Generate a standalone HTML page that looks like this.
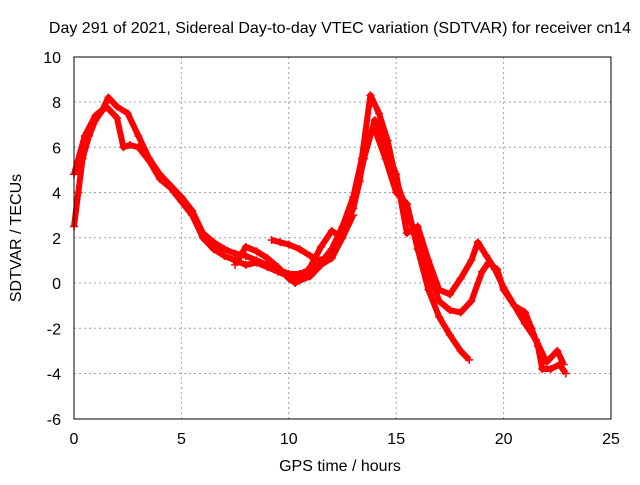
<!DOCTYPE html>
<html><head><meta charset="utf-8"><style>
body{margin:0;background:#fff;font-family:"Liberation Sans",sans-serif}
svg text{font-family:"Liberation Sans",sans-serif;font-size:16px;fill:#000}
</style></head><body>
<svg id="chart" width="640" height="480" xmlns="http://www.w3.org/2000/svg">
<rect width="640" height="480" fill="#fff"/>
<text x="340" y="33" text-anchor="middle">Day 291 of 2021, Sidereal Day-to-day VTEC variation (SDTVAR) for receiver cn14</text>
<text x="340" y="471" text-anchor="middle">GPS time / hours</text>
<text x="21" y="238" text-anchor="middle" transform="rotate(-90 21 238)">SDTVAR / TECUs</text>
<g id="grid"></g><g id="ticks"></g><g id="series"></g>
<rect x="74" y="57" width="537" height="362" fill="none" stroke="#000" stroke-width="1"/>
</svg>
<script>
const xTicks=[0,5,10,15,20,25];
const yTicks=[-6,-4,-2,0,2,4,6,8,10];
const trackA_t=[0,0.2,0.4,0.7,1.0,1.3,1.6,2.0,2.5,3.0,3.5,4.0,4.5,5.0,5.5,6.0,6.5,7.0,7.5,8.0,8.5,9,9.5,10,10.5,11,11.5,12,12.5,13,13.4,13.8,14.2,14.6,15,15.5,16,16.5,17,17.5,18,18.5,19,19.3,19.7,20,20.5,21,21.5,22,22.5,22.8];
const trackA_v=[2.5,4,5.5,6.5,7.2,7.6,8.2,7.8,7.5,6.5,5.5,4.8,4.3,3.8,3.2,2.2,1.8,1.5,1.3,1.2,1.0,0.8,0.6,0.4,0.4,0.6,0.9,1.5,2.5,3.8,5.5,8.3,7.5,6.3,4.5,3.2,1.8,0.5,-0.8,-1.2,-1.3,-0.8,0.5,0.9,0.6,-0.3,-1.0,-1.8,-2.5,-3.5,-3.0,-3.6];
const trackB_t=[0,0.5,1,1.5,2,2.3,2.6,3,3.5,4,4.5,5,5.5,6,6.5,7,7.5,8,8.5,9,9.5,10,10.5,11,11.5,12,12.5,13,13.3,13.6,14,14.5,15,15.5,16,16.5,17,17.5,18,18.4];
const trackB_v=[4.8,6.5,7.4,7.8,7.3,6.0,6.1,6.0,5.4,4.6,4.2,3.6,3.0,2.0,1.5,1.2,1.0,0.8,0.9,0.7,0.5,0.3,0.1,0.3,0.8,1.1,2.0,3.3,4.5,6.5,6.8,5.5,4.0,3.5,1.5,-0.3,-1.5,-2.3,-3.0,-3.4];
const trackC_t=[9.2,9.6,10,10.5,11,11.5,12,12.5,13,13.5,14,14.5,15,15.5,16,16.5,17,17.5,18,18.5,18.8,19.2,19.6,20,20.5,21,21.3,21.6,21.8,22.2,22.6,22.9];
const trackC_v=[1.9,1.8,1.7,1.5,1.2,1.0,1.3,2.3,3.3,5.5,7.2,6.0,4.8,2.2,2.5,1.0,-0.3,-0.5,0.2,1.0,1.8,1.2,0.6,-0.2,-1.0,-1.3,-2.0,-2.8,-3.8,-3.8,-3.6,-4.0];
const trackD_t=[7.5,8.0,8.5,9.0,9.5,10.0,10.3,10.6,11.0,11.5,12.0,12.5,13.0];
const trackD_v=[0.8,1.6,1.4,1.1,0.7,0.2,0.0,0.2,0.7,1.6,2.3,2.0,3.0];
const xs=t=>74+t*537/25, ys=v=>283-v*362/16;
const NS="http://www.w3.org/2000/svg";
const mk=(tag,attrs,parent)=>{const e=document.createElementNS(NS,tag);for(const k in attrs)e.setAttribute(k,attrs[k]);document.getElementById(parent).appendChild(e);return e;};
xTicks.forEach(t=>{
 if(t>0&&t<25){const g=mk('line',{x1:xs(t),x2:xs(t),y1:57,y2:419,stroke:'#a0a0a0','stroke-dasharray':'2,3'},'grid');
 
 }
 const l=mk('text',{x:xs(t),y:444,'text-anchor':'middle'},'ticks');l.textContent=t;
 
 
});
yTicks.forEach(v=>{
 if(v>-6&&v<10){const g=mk('line',{x1:74,x2:611,y1:ys(v),y2:ys(v),stroke:'#a0a0a0','stroke-dasharray':'2,3'},'grid');
 
 }
 const l=mk('text',{x:61,y:ys(v)+6,'text-anchor':'end'},'ticks');l.textContent=v;
 
 
});
[[trackA_t,trackA_v],[trackB_t,trackB_v],[trackC_t,trackC_v],[trackD_t,trackD_v]].forEach(([T,V],i)=>{
 const p=mk('polyline',{points:T.map((t,j)=>xs(t)+','+ys(V[j])).join(' '),fill:'none',stroke:'#f00','stroke-width':6,'stroke-linejoin':'round'},'series');
 
 
 T.forEach((t,j)=>{
  const x=xs(t),y=ys(V[j]);
  const m=mk('path',{d:`M${x-4},${y}h8M${x},${y-4}v8`,stroke:'#f00','stroke-width':1.5},'series');
  
  
 });
});
</script>
</body></html>
